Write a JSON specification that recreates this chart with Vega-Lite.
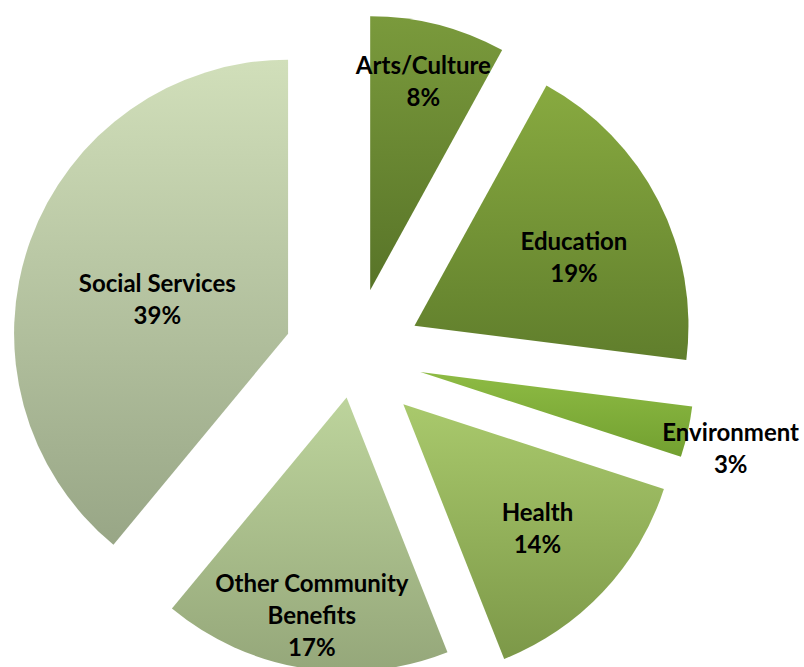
{
  "$schema": "https://vega.github.io/schema/vega-lite/v6.json",
  "autosize": "none",
  "width": 706,
  "height": 620,
  "padding": {"left": 0, "top": 47, "right": 98, "bottom": 0},
  "background": "white",
  "view": {"stroke": null},
  "data": {
    "values": [
      {"category": "Arts/Culture", "value": 8},
      {"category": "Education", "value": 19},
      {"category": "Environment", "value": 3},
      {"category": "Health", "value": 14},
      {"category": "Other Community Benefits", "value": 17},
      {"category": "Social Services", "value": 39}
    ]
  },
  "encoding": {
    "theta": {"field": "value", "type": "quantitative", "stack": true},
    "order": {"field": "category", "type": "ordinal", "sort": "ascending"},
    "detail": {"field": "category", "type": "nominal"}
  },
  "layer": [
    {
      "mark": {
        "type": "arc",
        "radius": 274,
        "xOffset": {"expr": "(datum.category === 'Other Community Benefits' ? 41 : 69) * sin(scale('theta', (datum.value_start + datum.value_end) / 2))"},
        "yOffset": {"expr": "-(datum.category === 'Other Community Benefits' ? 41 : 69) * cos(scale('theta', (datum.value_start + datum.value_end) / 2))"}
      },
      "encoding": {
        "color": {
          "condition": [
            {"test": "datum.category === 'Arts/Culture'", "value": {"gradient": "linear", "x1": 0, "y1": 0, "x2": 0, "y2": 1, "stops": [{"offset": 0, "color": "#7a9a3c"}, {"offset": 1, "color": "#587428"}]}},
            {"test": "datum.category === 'Education'", "value": {"gradient": "linear", "x1": 0, "y1": 0, "x2": 0, "y2": 1, "stops": [{"offset": 0, "color": "#88aa40"}, {"offset": 1, "color": "#607e2c"}]}},
            {"test": "datum.category === 'Environment'", "value": {"gradient": "linear", "x1": 0, "y1": 0, "x2": 0, "y2": 1, "stops": [{"offset": 0, "color": "#8ebb44"}, {"offset": 1, "color": "#72a030"}]}},
            {"test": "datum.category === 'Health'", "value": {"gradient": "linear", "x1": 0, "y1": 0, "x2": 0, "y2": 1, "stops": [{"offset": 0, "color": "#a9c96c"}, {"offset": 1, "color": "#7c9848"}]}},
            {"test": "datum.category === 'Other Community Benefits'", "value": {"gradient": "linear", "x1": 0, "y1": 0, "x2": 0, "y2": 1, "stops": [{"offset": 0, "color": "#bdd49c"}, {"offset": 1, "color": "#95a77a"}]}},
            {"test": "datum.category === 'Social Services'", "value": {"gradient": "linear", "x1": 0, "y1": 0, "x2": 0, "y2": 1, "stops": [{"offset": 0, "color": "#d1dfba"}, {"offset": 1, "color": "#98a686"}]}}
          ],
          "value": "#999999"
        }
      }
    },
    {
      "transform": [
        {"calculate": "replace(datum.category, 'Other Community ', 'Other Community|') + '|' + datum.value + '%'", "as": "label"}
      ],
      "mark": {
        "type": "text",
        "font": "Lato",
        "fontWeight": "bold",
        "fontSize": 24,
        "lineHeight": 32,
        "lineBreak": "|",
        "align": "center",
        "baseline": "middle",
        "color": "#000000",
        "dy": {"expr": "datum.category === 'Other Community Benefits' ? -32 : datum.category === 'Education' ? -1 : datum.category === 'Social Services' ? -2 : datum.category === 'Environment' ? -7 : -16"},
        "radius": {"expr": "datum.category === 'Arts/Culture' ? 214 : datum.category === 'Education' ? 179 : datum.category === 'Environment' ? 318 : datum.category === 'Health' ? 184 : datum.category === 'Other Community Benefits' ? 222 : 139"},
        "xOffset": {"expr": "(datum.category === 'Other Community Benefits' ? 41 : 69) * sin(scale('theta', (datum.value_start + datum.value_end) / 2))"},
        "yOffset": {"expr": "-(datum.category === 'Other Community Benefits' ? 41 : 69) * cos(scale('theta', (datum.value_start + datum.value_end) / 2))"}
      },
      "encoding": {
        "text": {"field": "label", "type": "nominal"}
      }
    }
  ]
}
